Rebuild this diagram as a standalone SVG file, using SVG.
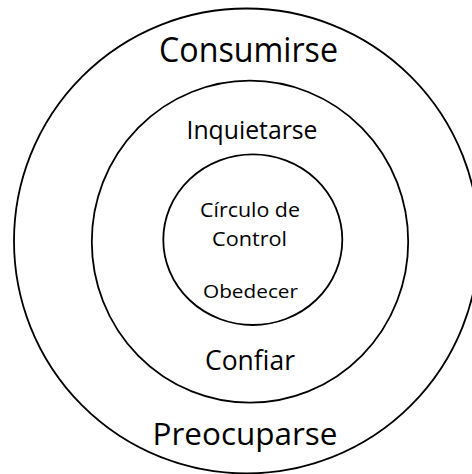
<svg xmlns="http://www.w3.org/2000/svg" width="472" height="474" viewBox="0 0 472 474">
<style>
.ring{fill:none;stroke:#000;stroke-width:1.8}
.t{font-family:"Open Sans","Noto Sans",sans-serif;fill:#000;text-anchor:middle}
</style>
<rect width="472" height="474" fill="#fff"/>
<g id="outer">
<ellipse class="ring" cx="246.5" cy="241" rx="232.5" ry="232.5"/>
<text class="t" x="248.5" y="61.7" font-size="35" textLength="179" lengthAdjust="spacingAndGlyphs">Consumirse</text>
<text class="t" x="245" y="445" font-size="31" textLength="185" lengthAdjust="spacingAndGlyphs">Preocuparse</text>
</g>
<g id="middle">
<ellipse class="ring" cx="250" cy="241.7" rx="158.2" ry="161"/>
<text class="t" x="252" y="139.3" font-size="25" textLength="131" lengthAdjust="spacingAndGlyphs">Inquietarse</text>
<text class="t" x="250" y="370" font-size="27" textLength="90" lengthAdjust="spacingAndGlyphs">Confiar</text>
</g>
<g id="inner">
<ellipse class="ring" cx="252.8" cy="239.7" rx="89.5" ry="85.3"/>
<text class="t" x="250" y="217" font-size="20" textLength="100" lengthAdjust="spacingAndGlyphs">Círculo de</text>
<text class="t" x="249.5" y="245.7" font-size="20" textLength="75" lengthAdjust="spacingAndGlyphs">Control</text>
<text class="t" x="250.5" y="298.3" font-size="19" textLength="95" lengthAdjust="spacingAndGlyphs">Obedecer</text>
</g>
<g id="connectors"></g>
</svg>
